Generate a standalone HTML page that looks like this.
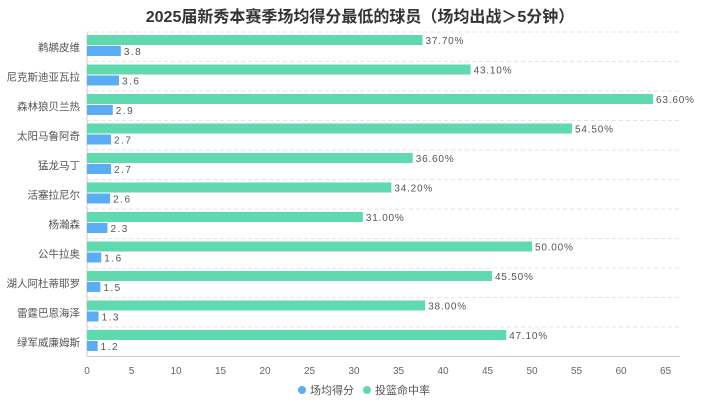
<!DOCTYPE html>
<html><head><meta charset="utf-8"><style>
body{margin:0;background:#fff;font-family:"Liberation Sans","Noto Sans CJK SC",sans-serif}
</style></head><body>
<svg id="c" width="720" height="405" xmlns="http://www.w3.org/2000/svg" font-family="'Liberation Sans','Noto Sans CJK SC',sans-serif">
<text x="360" y="22" text-anchor="middle" font-size="16" font-weight="bold" fill="#333">2025届新秀本赛季场均得分最低的球员（场均出战＞5分钟）</text>
<g id="plot"></g>
<g>
<circle cx="302" cy="390" r="4" fill="#5aadf5"/>
<text x="310" y="394" font-size="11" fill="#555">场均得分</text>
<circle cx="367" cy="390" r="4" fill="#5fd9ae"/>
<text x="375" y="394" font-size="11" fill="#555">投篮命中率</text>
</g>
</svg>
<script>
const categories=["鹈鹕皮维","尼克斯迪亚瓦拉","森林狼贝兰热","太阳马鲁阿奇","猛龙马丁","活塞拉尼尔","杨瀚森","公牛拉奥","湖人阿杜蒂耶罗","雷霆巴恩海泽","绿军威廉姆斯"];
const points=[3.8,3.6,2.9,2.7,2.7,2.6,2.3,1.6,1.5,1.3,1.2];
const fgPct=[37.7,43.1,63.6,54.5,36.6,34.2,31.0,50.0,45.5,38.0,47.1];
const xTicks=[0,5,10,15,20,25,30,35,40,45,50,55,60,65];
const NS="http://www.w3.org/2000/svg";
const g=document.getElementById('plot');
const x0=87,xr=680,plotTop=32,rowH=29.5,sc=8.9;
const X=v=>x0+v*sc;
function mk(t,a){const e=document.createElementNS(NS,t);for(const k in a)e.setAttribute(k,a[k]);g.appendChild(e);return e;}
for(let i=0;i<=categories.length;i++){
 const y=plotTop+i*rowH;
 const l=mk('line',{x1:x0,x2:xr,y1:y,y2:y,stroke:i==categories.length?'#ccc':'#e3e3e3','stroke-dasharray':i==categories.length?'':'4,3'});
 
 
}
const yl=mk('line',{x1:x0,x2:x0,y1:plotTop,y2:plotTop+rowH*categories.length,stroke:'#ccc'});


xTicks.forEach(v=>{
 const t=mk('text',{x:X(v),y:374,'text-anchor':'middle','font-size':10,fill:'#666'});t.textContent=v;
 
 
});
categories.forEach((c,i)=>{
 const y=plotTop+i*rowH;
 const t=mk('text',{x:80,y:y+19,'text-anchor':'end','font-size':10.5,fill:'#555'});t.textContent=c;
 
 
 const gb=mk('rect',{x:x0,y:y+3,width:X(fgPct[i])-x0,height:10,fill:'#5fd9ae'});
 
 
 const gt=mk('text',{x:X(fgPct[i])+3,y:y+12,'font-size':10,fill:'#555','letter-spacing':'0.8'});gt.textContent=fgPct[i].toFixed(2)+'%';
 
 
 const bb=mk('rect',{x:x0,y:y+14,width:X(points[i])-x0,height:10,fill:'#5aadf5'});
 
 
 const bt=mk('text',{x:X(points[i])+3,y:y+23,'font-size':10,fill:'#555','letter-spacing':'1.5'});bt.textContent=points[i].toFixed(1);
 
 
});
</script>
</body></html>
